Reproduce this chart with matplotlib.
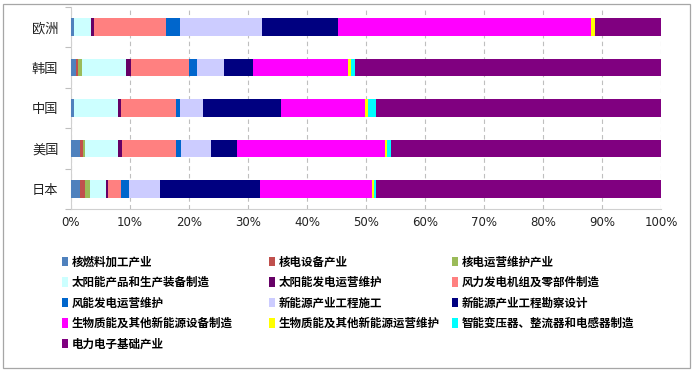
import matplotlib
matplotlib.use("Agg")
import matplotlib.pyplot as plt
from matplotlib.patches import Rectangle, Patch
from matplotlib.ticker import FuncFormatter, MultipleLocator, FixedLocator

plt.rcParams['font.family'] = ['Noto Sans CJK SC', 'DejaVu Sans']

categories = ['欧洲', '韩国', '中国', '美国', '日本']

series_names = [
    '核燃料加工产业', '核电设备产业', '核电运营维护产业',
    '太阳能产品和生产装备制造', '太阳能发电运营维护', '风力发电机组及零部件制造',
    '风能发电运营维护', '新能源产业工程施工', '新能源产业工程勘察设计',
    '生物质能及其他新能源设备制造', '生物质能及其他新能源运营维护', '智能变压器、整流器和电感器制造',
    '电力电子基础产业',
]

# values (%) per series, in category order: 欧洲, 韩国, 中国, 美国, 日本
nuclear_fuel      = [0.5, 0.85, 0.5, 1.5, 1.5]
nuclear_equip     = [0.0, 0.35, 0.0, 0.55, 0.9]
nuclear_ops       = [0.0, 0.65, 0.0, 0.25, 0.8]
solar_products    = [2.9, 7.45, 7.4, 5.6, 2.7]
solar_ops         = [0.5, 0.9, 0.6, 0.8, 0.4]
wind_turbines     = [12.2, 9.8, 9.3, 9.1, 2.2]
wind_ops          = [2.4, 1.4, 0.6, 0.9, 1.4]
construction      = [13.9, 4.5, 3.9, 5.1, 5.1]
survey_design     = [12.9, 4.9, 13.3, 4.3, 17.1]
biomass_equip     = [42.8, 16.2, 14.2, 25.2, 19.0]
biomass_ops       = [0.7, 0.5, 0.5, 0.3, 0.3]
smart_transformer = [0.0, 0.6, 1.4, 0.6, 0.3]
power_electronics = [11.2, 51.9, 48.3, 45.8, 48.3]

series_values = [nuclear_fuel, nuclear_equip, nuclear_ops, solar_products, solar_ops,
                 wind_turbines, wind_ops, construction, survey_design, biomass_equip,
                 biomass_ops, smart_transformer, power_electronics]

colors = ['#4F81BD', '#C0504D', '#9BBB59', '#CCFFFF', '#660066', '#FF8080',
          '#0066CC', '#CCCCFF', '#000080', '#FF00FF', '#FFFF00', '#00FFFF', '#800080']

W, H = 696, 373
fig = plt.figure(figsize=(W / 100, H / 100), dpi=100)

ax_l, ax_r, ax_t, ax_b = 71, 661, 7, 209
ax = fig.add_axes([ax_l / W, 1 - ax_b / H, (ax_r - ax_l) / W, (ax_b - ax_t) / H])

ypos = list(range(len(categories)))
totals = [sum(sv[i] for sv in series_values) for i in range(len(categories))]
left = [0.0] * len(categories)
for vals, name, col in zip(series_values, series_names, colors):
    widths = [v / t * 100 for v, t in zip(vals, totals)]
    ax.barh(ypos, widths, left=left, height=0.44, color=col, label=name, zorder=3, linewidth=0)
    left = [l + w for l, w in zip(left, widths)]

ax.set_xlim(0, 100)
ax.set_ylim(len(categories) - 0.5, -0.5)
ax.xaxis.set_major_locator(MultipleLocator(10))
ax.xaxis.set_major_formatter(FuncFormatter(lambda v, p: f'{int(round(v))}%'))
ax.set_yticks(ypos)
ax.set_yticklabels(categories, fontsize=9.5, color='#222222')
ax.yaxis.set_minor_locator(FixedLocator([i - 0.5 for i in range(len(categories) + 1)]))
ax.tick_params(axis='y', which='major', length=0, pad=9)
ax.tick_params(axis='y', which='minor', length=4, color='#BFBFBF', width=0.8)
ax.tick_params(axis='x', which='major', length=0, labelsize=8.5, labelcolor='#222222', pad=5)
for lbl in ax.get_xticklabels():
    lbl.set_family('DejaVu Sans')

ax.grid(axis='x', linestyle=(0, (4, 3)), color='#BFBFBF', linewidth=0.8, zorder=0)
for s in ['top', 'right']:
    ax.spines[s].set_visible(False)
for s in ['left', 'bottom']:
    ax.spines[s].set_color('#D0D0D0')
    ax.spines[s].set_linewidth(0.8)

# legend: entries placed row-wise in three columns, as in the reference
col_x = [62, 269, 452]
row_y = [262, 282.5, 303, 323.5, 344]
for i, (name, col) in enumerate(zip(series_names, colors)):
    r, c = divmod(i, 3)
    fig.legend([Patch(facecolor=col, edgecolor='none')], [name],
               loc='center left', bbox_to_anchor=(col_x[c] / W, 1 - row_y[r] / H),
               frameon=False, handlelength=0.55, handleheight=0.85,
               handletextpad=0.3, borderaxespad=0, borderpad=0,
               prop={'weight': 'bold', 'size': 8.3})

# outer chart border
fig.patches.append(Rectangle((3 / W, 1 - 368 / H), 687 / W, 364 / H, transform=fig.transFigure,
                             fill=False, edgecolor='#A6A6A6', linewidth=0.9))

fig.savefig('out.png', dpi=100)
